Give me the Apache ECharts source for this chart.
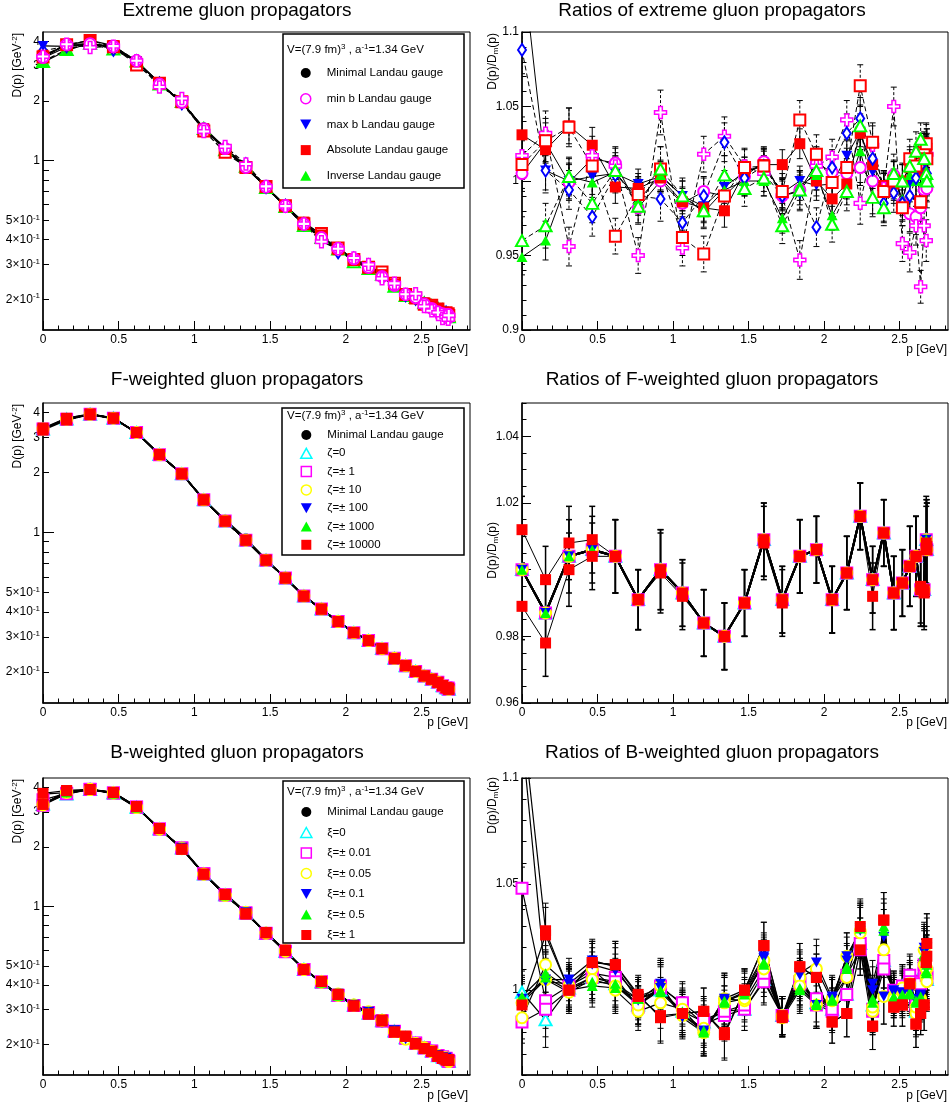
<!DOCTYPE html>
<html><head><meta charset="utf-8">
<script src="https://cdn.jsdelivr.net/npm/echarts@6/dist/echarts.min.js"></script>
<style>html,body{margin:0;padding:0;background:#fff}#c{width:950px;height:1107px}</style>
</head><body><div id="c"></div>
<script>
// ---------------- data ----------------
const pGeV = [0, 0.156, 0.311, 0.465, 0.618, 0.769, 0.917, 1.062, 1.203, 1.340, 1.473, 1.601, 1.723, 1.839, 1.949, 2.053, 2.150, 2.239, 2.321, 2.395, 2.461, 2.518, 2.567, 2.608, 2.639, 2.662, 2.676, 2.680];
const Dmin = [3.30, 3.75, 3.90, 3.72, 3.16, 2.48, 1.97, 1.47, 1.16, 0.935, 0.735, 0.587, 0.485, 0.412, 0.356, 0.318, 0.288, 0.258, 0.235, 0.213, 0.203, 0.192, 0.184, 0.177, 0.172, 0.168, 0.165, 0.163];

// extreme gauges: ratios D/Dmin
const rAbs   = [1.031,1.021,1.037,1.024,0.996,0.995,1.002,0.986,0.982,0.980,1.006,1.011,1.011,1.025,1.000,0.988,0.998,1.032,1.011,0.997,0.998,1.000,1.009,1.010,0.985,1.005,1.018,1.022];
const rMaxb  = [1.150,1.007,1.000,1.003,1.005,0.998,1.003,0.990,0.983,0.996,1.006,1.010,0.992,1.000,0.997,0.998,1.017,1.033,1.006,0.996,0.995,1.000,0.998,1.000,1.005,1.010,1.018,1.022];
const rInv   = [0.949,0.960,1.003,0.999,1.006,0.987,1.004,0.990,0.979,0.994,1.000,1.000,0.975,0.997,1.004,0.977,0.994,1.020,0.989,0.982,1.003,0.988,1.004,1.000,1.020,1.000,1.000,1.003];
const rMinb  = [1.005,1.026,0.999,1.015,1.012,0.982,1.000,0.985,0.993,0.990,1.003,1.013,0.990,0.994,1.012,1.006,1.005,1.009,1.000,0.995,1.004,0.985,0.978,0.976,0.982,0.994,1.017,0.995];
const rAbsB  = [1.011,1.027,1.036,1.010,0.963,0.991,1.008,0.962,0.951,0.990,1.009,1.010,0.993,1.041,1.018,0.999,1.009,1.064,1.026,0.993,1.000,0.982,1.015,1.010,0.986,1.019,1.025,1.015];
const rMaxbB = [1.088,1.007,0.994,0.976,1.004,0.990,0.988,0.972,0.990,1.026,1.002,1.010,0.990,0.993,0.969,1.009,1.032,1.042,1.015,0.985,0.992,0.985,0.990,1.002,1.010,1.020,1.024,1.005];
const rInvB  = [0.960,0.970,1.003,0.985,1.007,0.983,1.008,0.990,0.980,1.004,0.995,1.002,0.970,0.994,1.007,0.971,0.993,1.037,0.989,0.982,1.005,1.000,1.010,1.020,1.028,1.015,1.005,1.000];
const rMinbB = [1.017,1.032,0.956,1.017,1.010,0.950,1.046,0.955,1.018,1.030,1.010,1.005,0.990,0.947,1.010,1.016,1.041,0.985,1.024,0.995,1.050,0.958,0.952,0.970,0.929,0.970,0.960,1.018];
const errExt  = [0.012,0.013,0.012,0.012,0.011,0.010,0.010,0.010,0.010,0.011,0.010,0.010,0.010,0.010,0.010,0.010,0.010,0.012,0.011,0.010,0.010,0.011,0.012,0.012,0.012,0.012,0.013,0.013];
const errExtB = [0.016,0.015,0.013,0.013,0.012,0.012,0.015,0.012,0.012,0.013,0.012,0.012,0.012,0.013,0.013,0.012,0.013,0.014,0.013,0.012,0.013,0.012,0.013,0.013,0.011,0.013,0.014,0.014];

// F-weighted ratios
const rFcl = [1.000,0.987,1.004,1.006,1.004,0.991,1.000,0.993,0.984,0.980,0.990,1.009,0.991,1.004,1.006,0.991,0.999,1.016,0.997,1.011,0.993,0.996,1.001,1.004,0.994,0.994,1.009,1.006];
const rFp  = [1.012,0.997,1.008,1.009,1.004,0.991,1.000,0.993,0.984,0.980,0.990,1.008,0.990,1.004,1.006,0.991,0.999,1.016,0.992,1.011,0.993,0.996,1.001,1.004,0.994,0.993,1.008,1.006];
const rFm  = [0.989,0.978,1.000,1.004,1.004,0.991,0.999,0.992,0.984,0.980,0.990,1.009,0.991,1.004,1.006,0.991,0.999,1.016,0.997,1.011,0.993,0.996,1.001,1.004,0.995,0.994,1.006,1.007];
const errF = [0.010,0.010,0.011,0.010,0.011,0.009,0.012,0.010,0.010,0.010,0.010,0.011,0.010,0.011,0.010,0.010,0.011,0.010,0.010,0.010,0.011,0.010,0.012,0.012,0.011,0.011,0.013,0.014];

// B-weighted ratios
const rB0  = [0.999,0.986,1.001,1.006,1.003,0.993,1.000,0.990,0.985,0.990,0.991,1.005,0.988,1.004,0.994,0.991,0.998,1.022,0.993,1.014,0.998,1.002,1.006,0.990,1.004,1.010,1.006,1.005];
const rB1a = [1.048,0.995,1.002,1.008,1.006,0.992,1.002,0.993,0.984,0.988,0.991,1.004,0.988,1.004,0.993,0.990,1.007,1.019,0.990,1.014,0.999,1.002,1.007,0.992,1.004,1.008,1.005,1.006];
const rB1b = [0.985,0.991,1.000,1.006,1.004,0.993,1.001,0.994,0.986,0.990,0.993,1.008,0.988,1.003,0.996,0.991,0.998,1.022,0.991,1.010,1.000,0.999,1.004,0.993,1.003,1.012,1.007,1.008];
const rB2a = [0.987,1.012,1.002,1.010,1.000,0.990,0.994,0.991,0.980,0.996,0.995,1.010,0.987,1.006,1.010,0.995,1.016,1.028,0.990,1.019,0.997,1.000,1.003,0.989,0.996,1.019,1.006,1.010];
const rB2b = [0.994,1.005,0.999,1.005,1.002,0.993,1.002,0.988,0.982,0.994,0.996,1.014,0.988,1.002,0.993,0.996,1.006,1.027,0.992,0.997,0.996,1.001,1.002,0.992,0.995,1.012,1.010,1.004];
const rB3a = [0.996,1.005,1.005,1.014,1.011,0.995,1.003,0.987,0.980,0.996,1.000,1.016,0.988,1.008,1.013,0.996,1.016,1.028,1.003,1.025,1.000,0.998,0.999,0.995,0.997,1.020,1.012,1.022];
const rB3b = [1.120,1.004,1.003,1.012,1.009,0.997,1.001,0.988,0.981,0.995,0.999,1.015,0.987,1.007,0.993,0.997,1.014,1.029,1.000,0.997,0.999,0.999,1.000,0.996,0.998,1.018,1.010,1.020];
const rB4a = [0.995,1.006,1.000,1.002,1.001,0.996,0.999,0.989,0.980,0.995,0.998,1.012,0.987,1.000,0.993,0.995,1.010,1.031,0.994,1.030,0.996,0.997,0.998,0.994,0.996,1.016,1.008,1.012];
const rB4b = [0.997,1.008,1.001,1.004,1.003,0.996,1.000,0.990,0.981,0.994,0.999,1.013,0.988,1.001,0.994,0.996,1.011,1.029,0.996,1.028,0.997,0.998,0.999,0.995,0.997,1.017,1.009,1.014];
const rB5a = [0.993,1.026,1.000,1.013,1.012,0.998,0.987,0.989,0.990,0.979,1.000,1.021,0.988,1.011,1.006,0.985,0.989,1.030,0.983,1.033,0.992,0.993,1.003,0.984,0.989,0.993,1.013,1.022];
const rB5b = [1.130,1.028,1.000,1.013,1.012,0.997,0.988,0.989,0.990,0.980,1.000,1.021,0.987,1.011,1.006,0.985,0.989,1.019,0.983,1.033,0.992,0.993,1.003,0.984,0.989,0.993,1.013,1.016];
const errB = [0.010,0.013,0.010,0.010,0.011,0.009,0.012,0.010,0.011,0.012,0.010,0.011,0.009,0.011,0.011,0.010,0.011,0.012,0.011,0.013,0.009,0.010,0.010,0.011,0.010,0.012,0.013,0.014];

// ticks / labels
const xMajor = [0, 0.5, 1, 1.5, 2, 2.5];
const xMinor = [0.1,0.2,0.3,0.4,0.6,0.7,0.8,0.9,1.1,1.2,1.3,1.4,1.6,1.7,1.8,1.9,2.1,2.2,2.3,2.4,2.6,2.7,2.8];
const logLabels = [0.2,0.3,0.4,0.5,1,2,3,4];
const logMinor = [0.2,0.3,0.4,0.5,0.6,0.7,0.8,0.9,2,3,4];
const logMajor = [1];
const extMajor = [0.9,0.95,1,1.05,1.1];
const extMinor = [0.91,0.92,0.93,0.94,0.96,0.97,0.98,0.99,1.01,1.02,1.03,1.04,1.06,1.07,1.08,1.09];
const fMajor = [0.96,0.98,1,1.02,1.04];
const fLabels = [0.96,0.98,1.02,1.04];
const fMinor = [0.965,0.97,0.975,0.985,0.99,0.995,1.005,1.01,1.015,1.025,1.03,1.035,1.045,1.05];
const bMajor = [1,1.05,1.1];
const bMinor = [0.96,0.97,0.98,0.99,1.01,1.02,1.03,1.04,1.06,1.07,1.08,1.09];

// ---------------- styles ----------------
const FONT = '"Liberation Sans", Arial, Helvetica, sans-serif';
const P_DTRI = 'path://M0,0L10,0L5,9Z';
const P_UTRI = 'path://M5,0L10,9L0,9Z';
const P_RECT = 'path://M0,0L10,0L10,10L0,10Z';
const P_CIRC = 'path://M5,0A5,5,0,1,1,5,10A5,5,0,1,1,5,0Z';
const P_CROSS = 'path://M3.5,0L6.5,0L6.5,3.5L10,3.5L10,6.5L6.5,6.5L6.5,10L3.5,10L3.5,6.5L0,6.5L0,3.5L3.5,3.5Z';
const MAG='#ff00ff', RED='#ff0000', BLUE='#0000ff', GREEN='#00ff00', CYAN='#00ffff', YEL='#ffff00';

const S = {
  black:   {symbol:'circle', size:10, color:'#000'},
  magO:    {symbol:'emptyCircle', size:11, color:MAG, bw:1.5},
  blueDn:  {symbol:P_DTRI, size:[11,10], color:BLUE},
  redSq:   {symbol:'rect', size:11, color:RED},
  greenUp: {symbol:P_UTRI, size:[11,10], color:GREEN},
  redOSq:  {symbol:'emptyRect', size:11, color:RED, bw:1.5},
  blueDia: {symbol:'emptyDiamond', size:[8,12], color:BLUE, bw:1.5},
  greenOUp:{symbol:'emptyTriangle', size:[12,11], color:GREEN, bw:1.5},
  magCross:{symbol:P_CROSS, size:12, color:'#fff', border:MAG, bw:1.5},
  cyanOUp: {symbol:'emptyTriangle', size:[12,11], color:CYAN, bw:1.5},
  magOSq:  {symbol:'emptyRect', size:11, color:MAG, bw:1.5},
  yelO:    {symbol:'emptyCircle', size:11, color:YEL, bw:1.5}
};

function lineS(gi, name, ys, st, opt) {
  opt = opt || {};
  return {
    type:'line', name, xAxisIndex:gi, yAxisIndex:gi,
    data: pGeV.map((x,i)=>[x, ys[i]]),
    symbol: st.symbol, symbolSize: st.size, symbolKeepAspect:false,
    itemStyle: {color: st.color, borderColor: st.border || st.color, borderWidth: st.bw || 0},
    lineStyle: {color:'#000', width: opt.lw || 1, type: opt.dashed ? [5,3] : 'solid'},
    z: 3, clip:true, silent:true, animation:false, emphasis:{disabled:true}
  };
}
function errS(gi, ys, es, opt) {
  opt = opt || {};
  return {
    type:'custom', xAxisIndex:gi, yAxisIndex:gi, clip:true, silent:true, z:2, animation:false,
    data: pGeV.map((x,i)=>[x, ys[i], es[i]]),
    encode:{x:0, y:1},
    renderItem(params, api) {
      const x = api.value(0), y = api.value(1), e = api.value(2);
      const a = api.coord([x, y+e]), b = api.coord([x, y-e]);
      const lw = opt.lw || 1;
      const st = {stroke:'#000', lineWidth:lw, lineDash: opt.dashed ? [3,2] : null};
      const cs = {stroke:'#000', lineWidth:lw};
      return {type:'group', children:[
        {type:'line', shape:{x1:a[0],y1:a[1],x2:b[0],y2:b[1]}, style:st},
        {type:'line', shape:{x1:a[0]-3,y1:a[1],x2:a[0]+3,y2:a[1]}, style:cs},
        {type:'line', shape:{x1:b[0]-3,y1:b[1],x2:b[0]+3,y2:b[1]}, style:cs}
      ]};
    }
  };
}
const mulD = r => Dmin.map((d,i)=>d*r[i]);

// ---------------- panels ----------------
const extSet = [
  {name:'min b Landau gauge', r:rMinb, st:S.magO, e:errExt},
  {name:'max b Landau gauge', r:rMaxb, st:S.blueDn, e:errExt},
  {name:'Absolute Landau gauge', r:rAbs, st:S.redSq, e:errExt},
  {name:'Inverse Landau gauge', r:rInv, st:S.greenUp, e:errExt},
  {name:'min b (set 2)', r:rMinbB, st:S.magCross, e:errExtB, dashed:true},
  {name:'max b (set 2)', r:rMaxbB, st:S.blueDia, e:errExtB, dashed:true},
  {name:'Absolute (set 2)', r:rAbsB, st:S.redOSq, e:errExtB, dashed:true},
  {name:'Inverse (set 2)', r:rInvB, st:S.greenOUp, e:errExtB, dashed:true}
];
// drawing order for the absolute (left) extreme panel
const extLeftOrder = [7, 3, 5, 1, 6, 2, 0, 4];
const fSet = [
  {name:'ζ=0', r:rFcl, st:S.cyanOUp, lw:2},
  {name:'ζ=± 1', r:rFcl, st:S.magOSq, lw:2},
  {name:'ζ=± 10', r:rFcl, st:S.yelO, lw:2},
  {name:'ζ=± 100', r:rFcl, st:S.blueDn, lw:2},
  {name:'ζ=± 1000', r:rFcl, st:S.greenUp, lw:2, err:true},
  {name:'ζ=± 10000', r:rFp, st:S.redSq, lw:1, err:true},
  {name:'ζ=± 10000', r:rFm, st:S.redSq, lw:1, err:true}
];
const bSet = [
  {name:'ξ=0', r:rB0, st:S.cyanOUp},
  {name:'ξ=± 0.01', r:rB1a, st:S.magOSq},
  {name:'ξ=± 0.01', r:rB1b, st:S.magOSq},
  {name:'ξ=± 0.05', r:rB2a, st:S.yelO},
  {name:'ξ=± 0.05', r:rB2b, st:S.yelO},
  {name:'ξ=± 0.1', r:rB3a, st:S.blueDn},
  {name:'ξ=± 0.1', r:rB3b, st:S.blueDn},
  {name:'ξ=± 0.5', r:rB4a, st:S.greenUp},
  {name:'ξ=± 0.5', r:rB4b, st:S.greenUp},
  {name:'ξ=± 1', r:rB5a, st:S.redSq},
  {name:'ξ=± 1', r:rB5b, st:S.redSq}
];

const series = [];
// top
series.push(lineS(0, 'Minimal Landau gauge', Dmin, S.black, {lw:1.2}));
extLeftOrder.forEach(k => { const s = extSet[k]; series.push(lineS(0, s.name, mulD(s.r), s.st, {dashed:s.dashed, lw:1.2})); });
extSet.forEach(s => series.push(errS(1, s.r, s.e, {dashed:s.dashed})));
extSet.forEach(s => series.push(lineS(1, s.name, s.r, s.st, {dashed:s.dashed})));
// middle
series.push(lineS(2, 'Minimal Landau gauge', Dmin, S.black, {lw:1.5}));
fSet.forEach(s => series.push(lineS(2, s.name, mulD(s.r), s.st, {lw:1.5})));
fSet.filter(s=>s.err).forEach(s => series.push(errS(3, s.r, errF, {lw:1.5})));
fSet.forEach(s => series.push(lineS(3, s.name, s.r, s.st, {lw:s.lw})));
// bottom
series.push(lineS(4, 'Minimal Landau gauge', Dmin, S.black, {lw:1.5}));
bSet.forEach(s => series.push(lineS(4, s.name, mulD(s.r), s.st, {lw:1.2})));
bSet.forEach(s => series.push(errS(5, s.r, errB, {})));
bSet.forEach(s => series.push(lineS(5, s.name, s.r, s.st, {lw:1.2})));

// ---------------- axes ----------------
const grids = [
  {left:43, top:32, width:427, height:298},
  {left:522, top:32, width:426, height:298},
  {left:43, top:403, width:427, height:300},
  {left:522, top:403, width:426, height:300},
  {left:43, top:778, width:427, height:297},
  {left:522, top:778, width:426, height:297}
].map(g => Object.assign(g, {show:true, borderColor:'#000', borderWidth:1, backgroundColor:'#fff', outerBoundsMode:'none', containLabel:false}));

const BL = {color:'#000'};
function xMain(gi) {
  return {type:'value', gridIndex:gi, min:0, max:2.82, position:'bottom',
    axisLine:{show:true, onZero:false, lineStyle:{color:'#000', width:1.5}},
    axisTick:{show:true, inside:true, length:9, customValues:xMajor, lineStyle:BL},
    axisLabel:{show:true, customValues:xMajor, color:'#000', fontSize:12, fontFamily:FONT, margin:4, formatter:v=>String(v)},
    splitLine:{show:false}, minorTick:{show:false}};
}
function xMin(gi) {
  return {type:'value', gridIndex:gi, min:0, max:2.82, position:'bottom',
    axisLine:{show:false}, axisTick:{show:true, inside:true, length:4.5, customValues:xMinor, lineStyle:BL},
    axisLabel:{show:false}, splitLine:{show:false}};
}
const logFmt = v => v < 1 ? '{a|' + Math.round(v*10) + '×10}{s|-1}' : '{a|' + v + '}';
function yLog(gi) {
  return {type:'log', logBase:10, gridIndex:gi, min:0.14, max:4.46, position:'left',
    axisLine:{show:true, onZero:false, lineStyle:{color:'#000', width:1.5}},
    axisTick:{show:true, inside:true, length:6, customValues:logMinor, lineStyle:BL},
    axisLabel:{show:true, customValues:logLabels, margin:3, formatter:logFmt,
      rich:{a:{fontSize:12, fontFamily:FONT, color:'#000', lineHeight:14}, s:{fontSize:8, fontFamily:FONT, color:'#000', verticalAlign:'top'}}},
    splitLine:{show:false}};
}
function yLogOver(gi) {
  return {type:'log', logBase:10, gridIndex:gi, min:0.14, max:4.46, position:'left',
    axisLine:{show:false}, axisTick:{show:true, inside:true, length:11, customValues:logMajor, lineStyle:BL},
    axisLabel:{show:false}, splitLine:{show:false}};
}
function yRat(gi, mn, mx, ticks, labels) {
  return {type:'value', gridIndex:gi, min:mn, max:mx, position:'left',
    axisLine:{show:true, onZero:false, lineStyle:{color:'#000', width:1.5}},
    axisTick:{show:true, inside:true, length:9, customValues:ticks, lineStyle:BL},
    axisLabel:{show:true, customValues:labels, color:'#000', fontSize:12, fontFamily:FONT, margin:3, formatter:v=>String(v)},
    splitLine:{show:false}};
}
function yRatOver(gi, mn, mx, ticks) {
  return {type:'value', gridIndex:gi, min:mn, max:mx, position:'left',
    axisLine:{show:false}, axisTick:{show:true, inside:true, length:4.5, customValues:ticks, lineStyle:BL},
    axisLabel:{show:false}, splitLine:{show:false}};
}
const xAxis = [0,1,2,3,4,5].map(xMain).concat([0,1,2,3,4,5].map(xMin));
const yAxis = [
  yLog(0), yRat(1, 0.9, 1.1, extMajor, extMajor), yLog(2), yRat(3, 0.96, 1.05, fMajor, fLabels), yLog(4), yRat(5, 0.96, 1.1, bMajor, bMajor),
  yLogOver(0), yRatOver(1, 0.9, 1.1, extMinor), yLogOver(2), yRatOver(3, 0.96, 1.05, fMinor), yLogOver(4), yRatOver(5, 0.96, 1.1, bMinor)
];

// ---------------- legends ----------------
const LTXT = {fontSize:11.5, fontFamily:FONT, color:'#000', lineHeight:14};
function li(name, icon, fill, stroke, bw) { return {name, icon, itemStyle:{color:fill, borderColor:stroke, borderWidth:bw}}; }
const legMinimal = li('Minimal Landau gauge', P_CIRC, '#000', '#000', 0);
const legend = [
  {left:300, top:66, orient:'vertical', itemWidth:32, itemHeight:10, itemGap:11.7, padding:0, selectedMode:false, z:110, textStyle:LTXT,
   data:[legMinimal, li('min b Landau gauge', P_CIRC, '#fff', MAG, 1.5), li('max b Landau gauge', P_DTRI, BLUE, BLUE, 0),
         li('Absolute Landau gauge', P_RECT, RED, RED, 0), li('Inverse Landau gauge', P_UTRI, GREEN, GREEN, 0)]},
  {left:300, top:428, orient:'vertical', itemWidth:32, itemHeight:10, itemGap:4.3, padding:0, selectedMode:false, z:110, textStyle:LTXT,
   data:[legMinimal, li('ζ=0', P_UTRI, '#fff', CYAN, 1.5), li('ζ=± 1', P_RECT, '#fff', MAG, 1.5), li('ζ=± 10', P_CIRC, '#fff', YEL, 1.5),
         li('ζ=± 100', P_DTRI, BLUE, BLUE, 0), li('ζ=± 1000', P_UTRI, GREEN, GREEN, 0), li('ζ=± 10000', P_RECT, RED, RED, 0)]},
  {left:300, top:805, orient:'vertical', itemWidth:32, itemHeight:10, itemGap:6.5, padding:0, selectedMode:false, z:110, textStyle:LTXT,
   data:[legMinimal, li('ξ=0', P_UTRI, '#fff', CYAN, 1.5), li('ξ=± 0.01', P_RECT, '#fff', MAG, 1.5), li('ξ=± 0.05', P_CIRC, '#fff', YEL, 1.5),
         li('ξ=± 0.1', P_DTRI, BLUE, BLUE, 0), li('ξ=± 0.5', P_UTRI, GREEN, GREEN, 0), li('ξ=± 1', P_RECT, RED, RED, 0)]}
];

// ---------------- text graphics ----------------
const graphic = [];
function T(x, y, text, o) {
  o = o || {};
  graphic.push({type:'text', x, y, rotation:o.rot || 0, z:120, silent:true,
    style:{text, fontSize:o.fs || 12, fontFamily:FONT, fill:'#000', align:o.align || 'center', verticalAlign:'middle', lineHeight:14,
      rich:{s:{fontSize:8, fontFamily:FONT, fill:'#000', verticalAlign:'top'}, u:{fontSize:8, fontFamily:FONT, fill:'#000', verticalAlign:'bottom'}}}});
}
[['Extreme gluon propagators','Ratios of extreme gluon propagators',11],
 ['F-weighted gluon propagators','Ratios of F-weighted gluon propagators',380],
 ['B-weighted gluon propagators','Ratios of B-weighted gluon propagators',753]].forEach(t => {
  T(237, t[2], t[0], {fs:19}); T(712, t[2], t[1], {fs:19});
});
[350, 723, 1096].forEach(y => { T(468, y, 'p [GeV]', {align:'right'}); T(947, y, 'p [GeV]', {align:'right'}); });
[33, 404, 779].forEach(y => T(18, y, 'D(p) [GeV{s|-2}]', {align:'right', rot:Math.PI/2}));
[33, 522, 777].forEach(y => T(493, y, 'D(p)/D{u|m}(p)', {align:'right', rot:Math.PI/2}));
// legend boxes + headers
[[283,34,181,154,50],[282,408,182,147,416],[283,781,181,162,792]].forEach(b => {
  graphic.push({type:'rect', shape:{x:b[0], y:b[1], width:b[2], height:b[3]}, z:100, silent:true,
    style:{fill:'#fff', stroke:'#000', lineWidth:1.5}});
  T(287, b[4], 'V=(7.9 fm){s|3} , a{s|-1}=1.34 GeV', {align:'left', fs:11.5});
});

const chart = echarts.init(document.getElementById('c'), null, {renderer:'canvas'});
chart.setOption({
  backgroundColor:'#fff', animation:false,
  grid: grids, xAxis, yAxis, legend, series, graphic
});
</script></body></html>
